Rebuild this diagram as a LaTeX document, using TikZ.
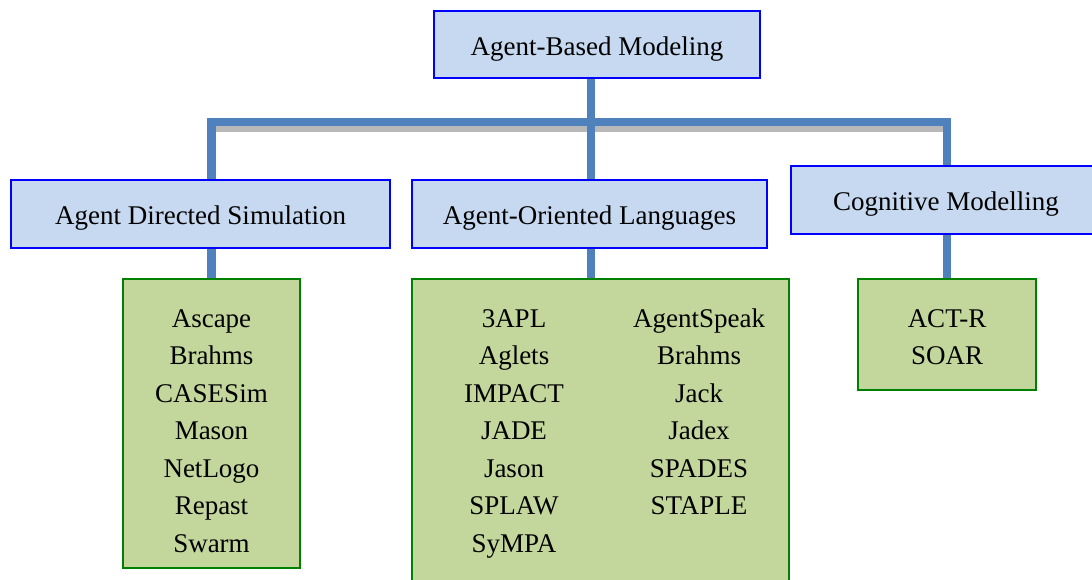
\documentclass[tikz,border=0pt]{standalone}
\usepackage{fontspec}
\setmainfont{Liberation Serif}
\usetikzlibrary{backgrounds}

\definecolor{catfill}{HTML}{C6D9F0}
\definecolor{catline}{HTML}{0000FF}
\definecolor{toolfill}{HTML}{C3D69B}
\definecolor{toolline}{HTML}{008000}
\definecolor{linkblue}{HTML}{4F81BD}

\tikzset{
  catbox/.style={draw=catline, line width=1.3pt, fill=catfill, inner sep=0pt,
    text height=12pt, text depth=1.25pt},
  toolbox/.style={draw=toolline, line width=1.3pt, fill=toolfill, inner sep=0pt},
  toollist/.style={anchor=north, align=center, inner sep=0pt},
  link/.style={draw=linkblue, line width=4.4pt},
  linkshadow/.style={draw=black!28, line width=2.6pt}
}

\begin{document}
\begin{tikzpicture}[x=0.5pt, y=-0.5pt, font=\fontsize{13.5pt}{18.75pt}\selectfont]
\clip (0,0) rectangle (1092,579);

% Top and category boxes
\node[catbox, minimum width=163pt, minimum height=33.5pt] (abm) at (597,44.5) {Agent-Based Modeling};
\node[catbox, minimum width=189.5pt, minimum height=34pt] (ads) at (200.5,214) {Agent Directed Simulation};
\node[catbox, minimum width=177.5pt, minimum height=34pt] (aol) at (589.5,214) {Agent-Oriented Languages};
\node[catbox, minimum width=155pt, minimum height=34pt] (cog) at (946,200) {Cognitive Modelling};

% Tool boxes
\node[toolbox, minimum width=88.5pt, minimum height=144.5pt] (adsl) at (211.5,423.5) {};
\node[toolbox, minimum width=188.5pt, minimum height=151pt] (aoll) at (600.5,430) {};
\node[toolbox, minimum width=89pt, minimum height=55.5pt] (cogl) at (947,334.5) {};

% Tool names
\node[toollist] (adsnames) at (211.5,309) {Ascape\\Brahms\\CASESim\\Mason\\NetLogo\\Repast\\Swarm};
\node[toollist] (aolleft) at (514,309) {3APL\\Aglets\\IMPACT\\JADE\\Jason\\SPLAW\\SyMPA};
\node[toollist] (aolright) at (699,308) {AgentSpeak\\Brahms\\Jack\\Jadex\\SPADES\\STAPLE};
\node[toollist] (cognames) at (947,309) {ACT-R\\SOAR};

% Connectors
\coordinate (mid) at (591,122);
\coordinate (barsh) at (591,129);
\begin{scope}[on background layer]
\draw[linkshadow] (adsl.north |- barsh) -- (cogl.north |- barsh);
\draw[link] (mid |- abm.south) -- (mid |- aol.north);
\draw[link] (adsl.north |- ads.north) |- (mid) -| (cogl.north |- cog.north);
\draw[link] (adsl.north |- ads.south) -- (adsl.north);
\draw[link] (mid |- aol.south) -- (mid |- aoll.north);
\draw[link] (cogl.north |- cog.south) -- (cogl.north);
\end{scope}
\end{tikzpicture}
\end{document}
